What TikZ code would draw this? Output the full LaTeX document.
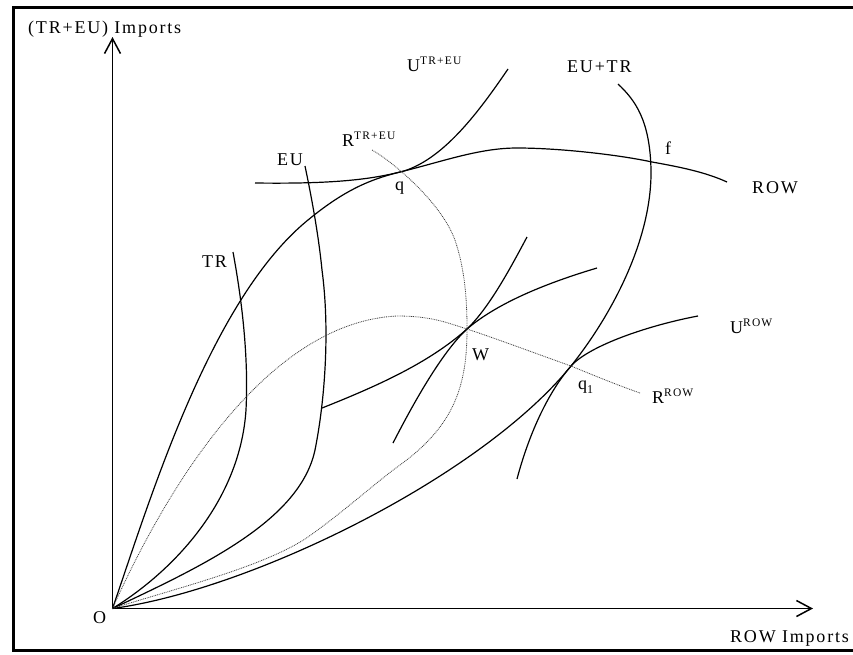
\documentclass[tikz,border=0pt]{standalone}
\usepackage{fontspec}
\setmainfont[LetterSpace=10]{Liberation Serif}
\usetikzlibrary{arrows.meta}
\newcommand\supx[1]{\raisebox{7pt}{\fontsize{11.5}{11.5}\selectfont #1}}
\newcommand\subx[1]{\raisebox{-4pt}{\fontsize{12}{12}\selectfont #1}}
\tikzset{
  lab/.style={anchor=base west, inner sep=0pt, font=\fontsize{18}{18}\selectfont},
  axisline/.style={line width=1.8pt, -{Straight Barb[length=15pt,width=16pt,line width=1.5pt]}},
  curve/.style={line width=1.2pt},
  dotcurve/.style={line width=0.8pt, dash pattern=on 0.9pt off 0.9pt, black!75},
}
\begin{document}
\begin{tikzpicture}[x=1pt, y=-1pt]
\useasboundingbox (0,0) rectangle (853,654);
\clip (0,0) rectangle (853,654);
\draw[line width=3pt] (13.5,7.5) rectangle (880,650.5);

\coordinate (O) at (112.5,608.5);
\coordinate (W) at (467,329);
\coordinate (q) at (404,171);
\coordinate (qone) at (571,366);
\coordinate (f) at (652,162);
\coordinate (ytop) at (112.5,37);
\coordinate (xend) at (813,608.5);

% axes
\draw[axisline] (O) -- (ytop);
\draw[axisline] (O) -- (xend);

% ROW offer curve
\draw[curve] (O) .. controls (150,500) and (210,300) .. (308,220)
  .. controls (348,187) and (375,178) .. (q)
  .. controls (444,161) and (480,148) .. (517,148)
  .. controls (560,148) and (620,155) .. (f)
  .. controls (680,167) and (705,172) .. (727,182);

% U^{TR+EU}
\draw[curve] (255,183) .. controls (330,184) and (370,180) .. (q)
  .. controls (445,158) and (480,110) .. (508,69);

% EU+TR
\draw[curve] (O) .. controls (250,590) and (480,478) .. (qone)
  .. controls (611,316) and (652,240) .. (651,170)
  .. controls (650,120) and (635,100) .. (618,84);

% U^ROW
\draw[curve] (517,479) .. controls (530,430) and (550,390) .. (qone)
  .. controls (590,345) and (650,325) .. (698,316);

% TR
\draw[curve] (O) .. controls (175,570) and (240,500) .. (246,410)
  .. controls (249,350) and (240,290) .. (233,252);

% EU
\draw[curve] (O) .. controls (205,565) and (300,520) .. (315,450)
  .. controls (325,400) and (330,330) .. (322,270)
  .. controls (318,230) and (310,190) .. (305,166);

% indifference curves at W
\draw[curve] (322,408) .. controls (380,385) and (430,362) .. (W)
  .. controls (495,305) and (540,285) .. (597,268);
\draw[curve] (393,443) .. controls (410,410) and (440,354) .. (W)
  .. controls (490,307) and (512,265) .. (527,237);

% R^ROW dotted
\draw[dotcurve] (O) .. controls (170,480) and (270,322) .. (397,316)
  .. controls (430,316) and (445,322) .. (W)
  .. controls (500,340) and (540,355) .. (qone)
  .. controls (600,378) and (620,386) .. (640,393);

% R^{TR+EU} dotted
\draw[dotcurve] (372,150) .. controls (390,160) and (440,200) .. (455,240)
  .. controls (465,270) and (467,300) .. (W)
  .. controls (467,385) and (455,425) .. (400,465)
  .. controls (375,483) and (340,515) .. (305,539)
  .. controls (260,568) and (170,590) .. (O);

% labels
\node[lab] (ylab) at (28,33) {(TR+EU) Imports};
\node[lab] (xlab) at (730,642) {ROW Imports};
\node[lab] (olab) at (93,623) {O};
\node[lab] (eulab) at (277,165) {EU};
\node[lab] (trlab) at (202,267) {TR};
\node[lab] (rtelab) at (342,146) {R\supx{TR+EU}};
\node[lab] (utelab) at (407,71) {U\supx{TR+EU}};
\node[lab] (eutrlab) at (567,72) {EU+TR};
\node[lab] (flab) at (665,154) {f};
\node[lab] (rowlab) at (752,193) {ROW};
\node[lab] (qlab) at (395,190) {q};
\node[lab] (wlab) at (472,360) {W};
\node[lab] (q1lab) at (578,389) {q\subx{1}};
\node[lab] (rrowlab) at (652,403) {R\supx{ROW}};
\node[lab] (urowlab) at (730,333) {U\supx{ROW}};
\end{tikzpicture}
\end{document}
